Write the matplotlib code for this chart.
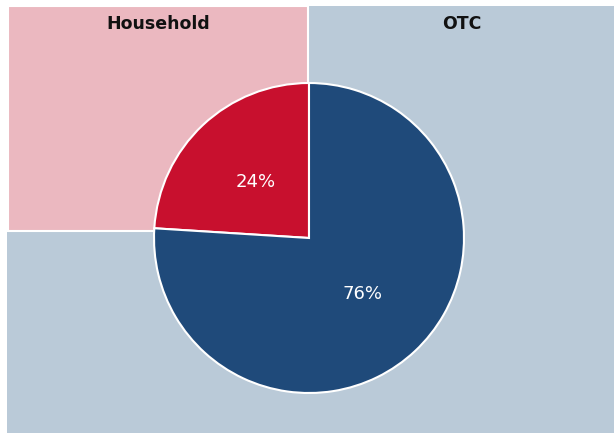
import matplotlib
matplotlib.use("Agg")
import matplotlib.pyplot as plt
from matplotlib.patches import Rectangle

# Share of each segment
categories = ["Household", "OTC"]
shares = [24, 76]

slice_colors = ["#C8102E", "#1F4A7A"]
panel_colors = ["#EBB8C0", "#BACAD8"]

W, H = 614, 433
fig = plt.figure(figsize=(W / 100, H / 100), dpi=100)
ax = fig.add_axes([0, 0, 1, 1])

# Background panels (pixel coordinates, y measured from bottom)
ax.add_patch(Rectangle((7, 0), W - 7, H - 6, facecolor=panel_colors[1],
                       edgecolor="none", zorder=0))
ax.add_patch(Rectangle((8, H - 231), 300, 225, facecolor=panel_colors[0],
                       edgecolor="white", linewidth=1.5, zorder=1))

# Panel titles
ax.text(158, H - 24, categories[0], ha="center", va="center",
        fontsize=12.5, fontweight="bold", color="#111111", zorder=3)
ax.text(462, H - 24, categories[1], ha="center", va="center",
        fontsize=12.5, fontweight="bold", color="#111111", zorder=3)

# Pie
wedges, texts, autotexts = ax.pie(
    shares, colors=slice_colors, startangle=90, counterclock=True,
    center=(309, H - 238), radius=155, frame=True,
    autopct=lambda p: f"{p:.0f}%", pctdistance=0.5,
    wedgeprops=dict(edgecolor="white", linewidth=1.5),
    textprops=dict(color="white", fontsize=13),
)
for w in wedges:
    w.set_zorder(2)
for t in autotexts:
    t.set_zorder(3)

ax.set_xlim(0, W)
ax.set_ylim(0, H)
ax.set_aspect("auto")
ax.axis("off")

fig.savefig("out.png", dpi=100)
